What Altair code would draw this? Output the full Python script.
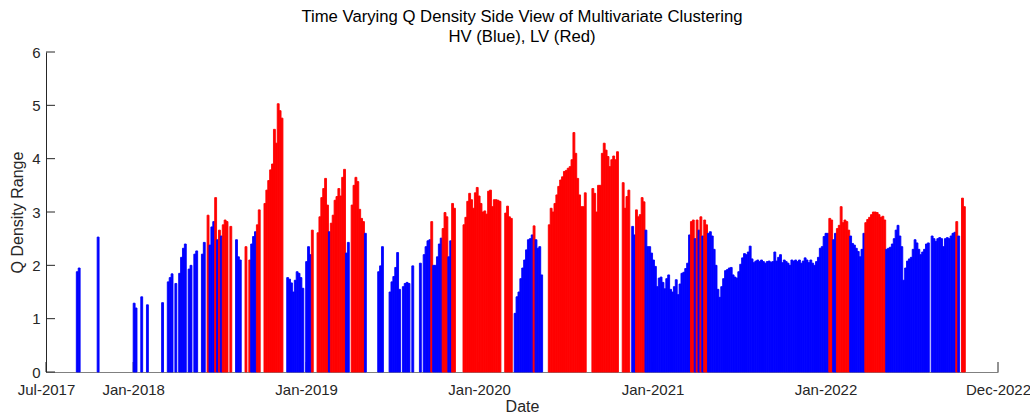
import altair as alt
import pandas as pd

# Q density range readings, one per four-day step starting 2017-07-01.
# Each entry is (value, regime); None marks a step with no observation.
SERIES_START = "2017-07-01"
STEP_DAYS = 4
B, R = "HV", "LV"

q_2017 = [None] * 16 + [(1.88, B), (1.95, B)] + [None] * 9 + [(2.53, B)] + [None] * 18

q_2018 = [
    (1.29, B), (1.20, B), None, None, (1.41, B), None, None, (1.26, B), None, None,
    None, None, None, None, None, (1.30, B), None, None, (1.69, B), (1.77, B),
    (1.84, B), None, (1.66, B), None, (1.85, B), (2.15, B), (2.32, B), (2.40, B), None, (1.93, B),
    (2.00, B), None, (2.21, B), (2.27, B), None, None, (2.21, B), (2.43, B), None, (2.94, R),
    (2.38, B), (2.72, B), (2.82, B), (3.27, R), (2.48, B), (2.66, R), (2.55, B), (2.76, R), (2.85, R), (2.82, R),
    None, (2.73, R), None, None, (2.48, B), (2.16, B), (2.10, B), None, None, (2.35, R),
    None, (2.10, R), (2.40, B), (2.54, B), (2.63, B), (2.76, R), (3.04, R), None, None, (3.16, R),
    (3.41, R), (3.59, R), (3.79, R), (3.90, R), (4.55, R), (4.29, R), (5.03, R), (4.90, R), (4.76, R), None,
    None, (1.77, B), (1.74, B), (1.67, B), (1.50, B), (1.72, B), (1.88, B), (1.85, B), (1.77, B), (1.57, B),
    None,
]

q_2019 = [
    (2.07, B), (2.35, B), (2.20, B), (2.66, R), None, None, (2.61, R), (2.91, R), (3.27, R), (3.44, R),
    (3.63, R), (3.13, R), (2.63, B), (2.79, R), (2.94, R), (3.22, R), (3.29, R), (3.44, R), (3.30, R), (3.65, R),
    (3.80, R), (2.23, B), (2.43, B), None, (3.13, R), (3.50, R), (3.65, R), (3.57, R), (3.05, R), (2.88, R),
    (2.82, R), (2.60, B), None, None, None, None, None, None, (1.88, B), (1.99, B),
    (2.35, B), None, None, None, (1.50, B), (1.69, B), (1.79, B), (1.96, B), (2.24, B), (1.55, B),
    None, (1.60, B), (1.66, B), (1.68, B), (1.66, B), None, (1.99, B), None, None, None,
    (2.04, B), None, (2.20, B), (2.35, B), (2.46, B), (2.48, B), (2.82, R), (2.00, B), (2.00, B), (2.16, B),
    (2.40, B), (2.51, B), (2.69, R), (2.99, R), (2.91, R), (2.16, B), (2.46, B), (3.16, R), (3.07, R), None,
    None, None, None, (2.76, R), (2.90, R), (3.20, R), (3.35, R), (3.23, R), (3.07, R), (3.36, R),
    (3.46, R), (3.30, R),
]

q_2020 = [
    (3.16, R), (3.00, R), (3.02, R), (2.96, R), (3.39, R), (3.41, R), (3.10, R), (3.23, R), (3.23, R), (3.22, R),
    (3.20, R), None, None, (2.98, R), (3.11, R), (2.91, R), (2.88, R), None, (1.10, B), (1.41, B),
    (1.50, B), (1.75, B), (1.95, B), (2.10, B), (2.29, B), (2.48, B), (2.50, B), (2.57, B), (2.74, R), (2.48, B),
    (2.32, B), (2.35, B), (1.82, B), None, None, None, (2.76, R), (3.07, R), (3.00, R), (3.16, R),
    (3.32, R), (3.48, R), (3.60, R), (3.66, R), (3.76, R), (3.78, R), (3.82, R), (3.85, R), (3.98, R), (4.49, R),
    (4.10, R), (3.63, R), (3.32, R), (3.10, R), (3.10, R), (3.36, R), None, None, None, (3.44, R),
    (3.35, R), (3.00, R), (3.50, R), (3.50, R), (4.10, R), (4.29, R), (4.16, R), (4.04, R), (3.85, R), (3.98, R),
    (4.05, R), (3.98, R), (4.13, R), None, None, (3.55, R), (3.07, R), (3.29, R), (3.41, R), None,
    (2.73, B), (2.57, B), (3.04, R), (2.91, R), (2.95, R), (3.27, R), (3.19, R), (2.66, B), (2.35, B), (2.35, B),
    (2.23, B),
]

q_2021 = [
    (2.10, B), (1.98, B), (1.60, B), (1.76, B), (1.78, B), (1.68, B), (1.56, B), (1.75, B), (1.82, B), (1.55, B),
    (1.50, B), (1.60, B), (1.73, B), (1.45, B), (1.65, B), (1.85, B), (1.87, B), (1.94, B), (2.04, B), (2.57, B),
    (2.82, R), (2.85, R), (2.50, B), (2.85, R), (2.66, B), (2.91, R), (2.55, B), (2.85, R), (2.76, R), (2.60, B),
    (2.63, B), (2.55, B), (2.30, B), (2.00, B), (1.55, B), (1.40, B), (1.60, B), (1.75, B), (1.90, B), (1.92, B),
    (1.95, B), (1.96, B), (1.82, B), (1.78, B), (1.76, B), (1.88, B), (2.02, B), (2.14, B), (2.22, B), (2.20, B),
    (2.25, B), (2.36, B), (2.12, B), (2.05, B), (2.08, B), (2.10, B), (2.07, B), (2.10, B), (2.07, B), (2.04, B),
    (2.07, B), (2.08, B), (2.06, B), (2.07, B), (2.25, B), (2.08, B), (2.15, B), (2.20, B), (2.05, B), (2.10, B),
    (2.07, B), (2.04, B), (2.00, B), (2.10, B), (2.08, B), (2.10, B), (2.07, B), (2.10, B), (2.04, B), (2.08, B),
    (2.14, B), (2.10, B), (2.05, B), (2.10, B), (2.04, B), (2.00, B), (2.07, B), (2.15, B), (2.32, B), (2.35, B),
    (2.54, B),
]

q_2022 = [
    (2.60, B), (2.60, B), (2.88, R), (2.85, R), (2.48, B), (2.60, B), (2.69, R), (2.75, R), (3.10, R), (2.80, R),
    (2.85, R), (2.82, R), (2.66, R), (2.55, B), (2.41, B), (2.38, B), (2.32, B), (2.26, B), (2.16, B), (2.30, B),
    (2.60, B), (2.80, R), (2.86, R), (2.90, R), (2.95, R), (3.00, R), (3.00, R), (2.99, R), (2.95, R), (2.90, R),
    (2.92, R), (2.85, R), (2.30, B), (2.32, B), (2.34, B), (2.40, B), (2.50, B), (2.66, B), (2.75, B), (2.55, B),
    (2.35, B), (1.72, B), (1.95, B), (2.08, B), (2.12, B), (2.15, B), (2.30, B), (2.48, B), (2.42, B), (2.30, B),
    (2.20, B), (2.25, B), (2.30, B), (2.40, B), (2.42, B), None, (2.55, B), (2.50, B), (2.45, B), (2.50, B),
    (2.52, B), (2.50, B), (2.35, B), (2.50, B), (2.52, B), (2.50, B), (2.55, B), (2.60, B), (2.62, B), (2.82, R),
    (2.55, B), None, (3.26, R), (3.10, R),
]

# Axis tick positions and the plotted date window
y_ticks = [0, 1, 2, 3, 4, 5, 6]
x_ticks = ["2017-07-01", "2018-01-01", "2019-01-01", "2020-01-01",
           "2021-01-01", "2022-01-01", "2022-12-31"]

steps = q_2017 + q_2018 + q_2019 + q_2020 + q_2021 + q_2022
t0 = pd.Timestamp(SERIES_START)
rows = []
for i, cell in enumerate(steps):
    if cell is None:
        continue
    value, regime = cell
    start = t0 + pd.Timedelta(days=STEP_DAYS * i)
    end = start + pd.Timedelta(days=STEP_DAYS)
    rows.append({"start": start.strftime("%Y-%m-%d"),
                 "end": end.strftime("%Y-%m-%d"),
                 "q": value, "regime": regime})
bars_df = pd.DataFrame(rows)


def dt(s):
    d = pd.Timestamp(s)
    return alt.DateTime(year=d.year, month=d.month, date=d.day)


x_scale = alt.Scale(domain=[dt(x_ticks[0]), dt(x_ticks[-1])], nice=False)
y_scale = alt.Scale(domain=[0, 6], nice=False)
regime_scale = alt.Scale(domain=[B, R], range=["#0000ff", "#ff0000"])
FONT = "Liberation Sans"
AX = "#262626"

bars = alt.Chart(bars_df).mark_rect(strokeWidth=0.9).encode(
    x=alt.X("start:T", scale=x_scale,
            axis=alt.Axis(values=[dt(s) for s in x_ticks], format="%b-%Y",
                          title="Date", grid=False, ticks=False,
                          labelPadding=10, labelFontSize=15, labelFont=FONT,
                          labelColor=AX, titleFont=FONT, titleFontSize=16,
                          titleFontWeight="normal", titleColor=AX, titlePadding=1,
                          domainColor="#808080", labelFlush=False)),
    x2="end:T",
    y=alt.Y("q:Q", scale=y_scale,
            axis=alt.Axis(values=y_ticks, title="Q Density Range", grid=False,
                          ticks=False, labelPadding=6, labelFontSize=15,
                          labelFont=FONT, labelColor=AX, titleFont=FONT,
                          titleFontSize=16, titleFontWeight="normal",
                          titleColor=AX, titlePadding=6, domainColor=AX)),
    y2=alt.datum(0),
    color=alt.Color("regime:N", scale=regime_scale, legend=None),
    stroke=alt.Stroke("regime:N", scale=regime_scale, legend=None),
)

# Inward tick marks, drawn beneath the bars
x_tick_df = pd.DataFrame({"t": x_ticks})
x_tick_marks = alt.Chart(x_tick_df).mark_rule(color=AX, strokeWidth=1).encode(
    x=alt.X("t:T", scale=x_scale),
    y=alt.value(320), y2=alt.value(310),
)
y_tick_df = pd.DataFrame({"v": y_ticks})
y_tick_marks = alt.Chart(y_tick_df).mark_rule(color=AX, strokeWidth=1).encode(
    y=alt.Y("v:Q", scale=y_scale),
    x=alt.value(0), x2=alt.value(9),
)

chart = alt.layer(x_tick_marks, y_tick_marks, bars).properties(
    width=952, height=320,
    title=alt.Title(["Time Varying Q Density Side View of Multivariate Clustering",
                     "HV (Blue), LV (Red)"],
                    font=FONT, fontSize=16.7, fontWeight="normal", color="#000000",
                    anchor="middle", offset=-1, lineHeight=20),
    autosize=alt.AutoSizeParams(type="none"),
    padding={"left": 46, "top": 52, "right": 32, "bottom": 40},
    background="white",
).configure_view(stroke=None)

chart.save("out.html", embed_options={"renderer": "svg", "actions": False})
